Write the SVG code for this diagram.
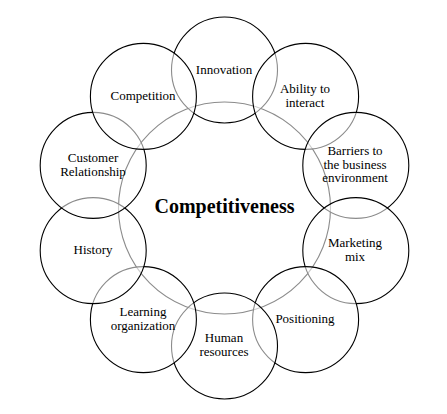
<svg xmlns="http://www.w3.org/2000/svg" width="447" height="414" viewBox="0 0 447 414">
<style>
  .c { fill: #ffffff; fill-opacity: 0.55; stroke: #000000; stroke-width: 1.1; }
  .t { font-family: "Liberation Serif", "Times New Roman", serif; font-size: 13px; fill: #000000; text-anchor: middle; }
  .b { font-family: "Liberation Serif", "Times New Roman", serif; font-size: 20px; font-weight: bold; fill: #000000; text-anchor: middle; }
</style>
<rect width="447" height="414" fill="#ffffff"/>
<g id="competitiveness">
  <circle class="c" cx="224.5" cy="208" r="106"/>
  <text class="b" x="224.5" y="213">Competitiveness</text>
</g>
<g id="innovation">
  <circle class="c" cx="224.5" cy="70" r="53"/>
  <text class="t" x="224" y="74">Innovation</text>
</g>
<g id="ability">
  <circle class="c" cx="305.6" cy="96.4" r="53"/>
  <text class="t" x="305" y="93">Ability to</text>
  <text class="t" x="305" y="107">interact</text>
</g>
<g id="barriers">
  <circle class="c" cx="355.8" cy="165.4" r="53"/>
  <text class="t" x="355" y="155">Barriers to</text>
  <text class="t" x="355" y="168.5">the business</text>
  <text class="t" x="355" y="182">environment</text>
</g>
<g id="marketing">
  <circle class="c" cx="355.8" cy="250.6" r="53"/>
  <text class="t" x="355" y="247">Marketing</text>
  <text class="t" x="355" y="261">mix</text>
</g>
<g id="positioning">
  <circle class="c" cx="305.6" cy="319.6" r="53"/>
  <text class="t" x="305" y="322.5">Positioning</text>
</g>
<g id="human">
  <circle class="c" cx="224.5" cy="346" r="53"/>
  <text class="t" x="224" y="342">Human</text>
  <text class="t" x="224" y="356">resources</text>
</g>
<g id="learning">
  <circle class="c" cx="143.4" cy="319.6" r="53"/>
  <text class="t" x="143" y="316">Learning</text>
  <text class="t" x="143" y="329.5">organization</text>
</g>
<g id="history">
  <circle class="c" cx="93.2" cy="250.6" r="53"/>
  <text class="t" x="93" y="254">History</text>
</g>
<g id="customer">
  <circle class="c" cx="93.2" cy="165.4" r="53"/>
  <text class="t" x="93" y="162">Customer</text>
  <text class="t" x="93" y="176">Relationship</text>
</g>
<g id="competition">
  <circle class="c" cx="143.4" cy="96.4" r="53"/>
  <text class="t" x="143" y="100">Competition</text>
</g>
<g id="connectors"/>
</svg>
